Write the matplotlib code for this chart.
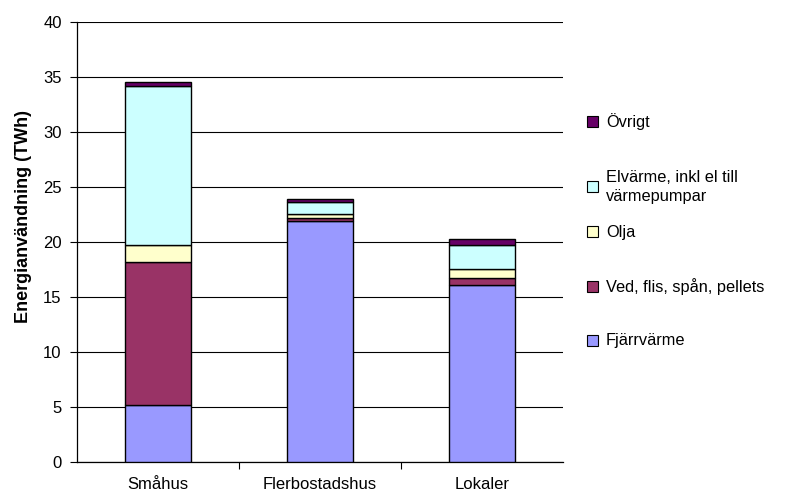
import matplotlib.pyplot as plt
import numpy as np
from matplotlib.patches import Rectangle
from matplotlib.ticker import FixedLocator

plt.rcParams['font.family'] = ['Liberation Sans', 'DejaVu Sans']

categories = ['Småhus', 'Flerbostadshus', 'Lokaler']

# energy use per source (TWh), stacked bottom to top
fjarrvarme = [5.2, 21.9, 16.1]
ved = [13.0, 0.25, 0.6]
olja = [1.5, 0.4, 0.85]
elvarme = [14.5, 1.05, 2.2]
ovrigt = [0.35, 0.3, 0.55]

series = [
    ('Fjärrvärme', fjarrvarme, '#9999FF'),
    ('Ved, flis, spån, pellets', ved, '#993366'),
    ('Olja', olja, '#FFFFCC'),
    ('Elvärme, inkl el till\nvärmepumpar', elvarme, '#CCFFFF'),
    ('Övrigt', ovrigt, '#660066'),
]

fig = plt.figure(figsize=(7.96, 4.92), dpi=100)
ax = fig.add_axes((0.0967, 0.061, 0.6106, 0.894))

x = np.arange(len(categories))
bottom = np.zeros(len(categories))
for name, vals, color in series:
    ax.bar(x, vals, width=0.41, bottom=bottom, color=color,
           edgecolor='black', linewidth=1.0, zorder=3)
    bottom += np.array(vals)

ax.set_xlim(-0.5, 2.5)
ax.set_ylim(0, 40)
ax.set_yticks(range(0, 41, 5))
ax.yaxis.grid(True, color='black', linewidth=0.8, zorder=0)
ax.tick_params(axis='y', length=5, width=0.8, labelsize=12, pad=6)

ax.set_xticks(x)
ax.set_xticklabels(categories, fontsize=12)
ax.tick_params(axis='x', which='major', length=0, pad=11)
ax.xaxis.set_minor_locator(FixedLocator([0.5, 1.5]))
ax.tick_params(axis='x', which='minor', length=5, width=0.8)

for side in ['top', 'right']:
    ax.spines[side].set_visible(False)
ax.spines['left'].set_linewidth(0.9)
ax.spines['bottom'].set_linewidth(0.9)

ax.set_ylabel('Energianvändning (TWh)', fontsize=13, fontweight='bold')
ax.yaxis.set_label_coords(-0.093, 0.559)

# legend, top entry first
legend_y = [122, 187, 232, 287, 341]
for (name, vals, color), ypix in zip(series[::-1], legend_y):
    yf = 1 - ypix / 492
    fig.patches.append(Rectangle((587 / 796, yf - 5 / 492), 11 / 796, 11 / 492,
                                 facecolor=color, edgecolor='black',
                                 linewidth=0.8, transform=fig.transFigure))
    fig.text(606 / 796, yf, name, fontsize=11.8, va='center', ha='left',
             linespacing=1.25)

fig.savefig('out.png', dpi=100)
